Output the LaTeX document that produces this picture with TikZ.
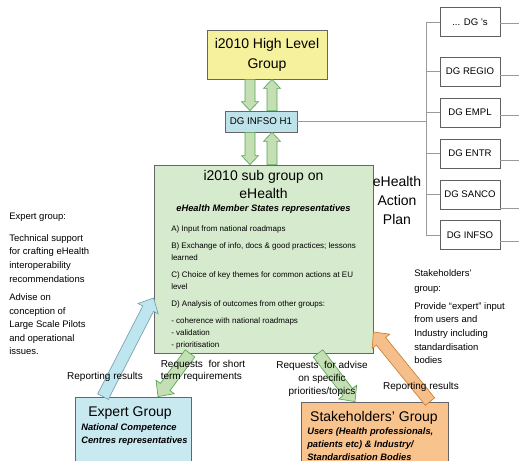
\documentclass[tikz,border=0pt]{standalone}
\usepackage{fontspec}
\setmainfont{Liberation Sans}
\usepackage{xcolor}
\usetikzlibrary{positioning, calc}

\definecolor{hlyellow}{HTML}{F5F19C}
\definecolor{subgreen}{HTML}{D6EBCD}
\definecolor{infoblue}{HTML}{BEE2E9}
\definecolor{expblue}{HTML}{C8E9EF}
\definecolor{stakeorange}{HTML}{F9C38E}
\definecolor{arrgreen}{HTML}{C3DFB3}
\definecolor{arrblue}{HTML}{BEE6EF}
\definecolor{arrorange}{HTML}{F6BE8A}
\definecolor{treegray}{HTML}{9A9A9A}

\tikzset{
  box/.style={draw=gray!80!black, line width=0.6pt, inner sep=0pt},
  hlbox/.style={box, fill=hlyellow, minimum width=90pt, minimum height=36.75pt,
    align=center, font=\fontsize{10.5}{15}\selectfont},
  h1box/.style={box, fill=infoblue, minimum width=54pt, minimum height=15.75pt,
    font=\fontsize{7.3}{9}\selectfont},
  subbox/.style={box, draw=black!60, fill=subgreen, minimum width=164.25pt, minimum height=141pt},
  dgbox/.style={draw=gray!75!black, fill=white, inner sep=0pt, minimum width=45pt,
    minimum height=21.75pt, font=\fontsize{7.2}{9}\selectfont},
  title/.style={inner sep=0pt, align=center, font=\fontsize{10.5}{13.5}\selectfont},
  boldit/.style={inner sep=0pt, font=\fontsize{7}{9.75}\selectfont\bfseries\itshape},
  items/.style={inner sep=0pt, anchor=north west, align=left, font=\fontsize{6}{9}\selectfont},
  lbl/.style={inner sep=0pt, font=\fontsize{7.5}{9.5}\selectfont},
  side/.style={inner sep=0pt, anchor=north west, align=left, font=\fontsize{7.1}{10.2}\selectfont},
  tree/.style={draw=treegray, line width=0.6pt},
  greenarr/.style={fill=arrgreen, draw=green!30!gray, line width=0.5pt},
  bluearr/.style={fill=arrblue, draw=cyan!30!gray, line width=0.5pt},
  orangearr/.style={fill=arrorange, draw=orange!60!gray, line width=0.5pt},
}

% block arrow: style, tail, tip, shaft half width, head half width, head length
\newcommand{\blockarrow}[6]{%
  \path (#2) coordinate (ba-t) ($(#3)!#6!(#2)$) coordinate (ba-n);
  \draw[#1] ($(ba-t)!#4!90:(ba-n)$) -- ($(ba-n)!#4!-90:(ba-t)$)
    -- ($(ba-n)!#5!-90:(ba-t)$) -- (#3) -- ($(ba-n)!#5!90:(ba-t)$)
    -- ($(ba-n)!#4!90:(ba-t)$) -- ($(ba-t)!#4!-90:(ba-n)$) -- cycle;
}

\begin{document}
\begin{tikzpicture}[x=0.75pt, y=-0.75pt]
  \useasboundingbox (0,0) rectangle (519,461);
  \clip (0,0) rectangle (519,461);

  % Groups
  \node[hlbox] (hl) at (267,54.5) {i2010 High Level\\Group};
  \node[h1box] (h1) at (261,121.5) {DG INFSO H1};
  \node[subbox] (sub) at (263.5,259) {};
  \node[box, fill=expblue, minimum width=87pt, minimum height=58.5pt] (expert) at (133,436) {};
  \node[box, fill=stakeorange, minimum width=110.25pt, minimum height=54.75pt] (stake) at (374.5,438.5) {};

  % DGs
  \node[dgbox] (dgs) at (470,22) {... DG 's};
  \node[dgbox] (regio) at (470,71.5) {DG REGIO};
  \node[dgbox] (empl) at (470,112.5) {DG EMPL};
  \node[dgbox] (entr) at (470,153.5) {DG ENTR};
  \node[dgbox] (sanco) at (470,194.5) {DG SANCO};
  \node[dgbox] (infso) at (470,235) {DG INFSO};

  % Bracket
  \coordinate (brtop) at (426,22);
  \coordinate (brbot) at (426,235);
  \draw[tree] (dgs.west) -- (brtop) -- (brbot) -- (infso.west);
  \foreach \n in {regio,empl,entr,sanco}
    \draw[tree] (\n.west) -- (\n.west -| brtop);
  \draw[tree] (h1.east) -- (h1.east -| brtop);
  \foreach \n/\dy in {dgs/1, regio/3.5, empl/2.5, entr/6.5, sanco/13.5, infso/6}
    \draw[tree] ($(\n.east)+(0,\dy)$) -- +(25,0);

  % Texts in the boxes
  \node[title] (subtitle) at (263.5,184) {i2010 sub group on\\eHealth};
  \node[boldit] (msr) at (263.5,209) {eHealth Member States representatives};
  \node[items] (tasks) at (171,225) {A) Input from national roadmaps\\[3.75pt]
    B) Exchange of info, docs \& good practices; lessons\\learned\\[3.75pt]
    C) Choice of key themes for common actions at EU\\level\\[3.75pt]
    D) Analysis of outcomes from other groups:\\[3.75pt]
    - coherence with national roadmaps\\- validation\\- prioritisation};
  \node[title] (exptitle) at (130,413) {Expert Group};
  \node[boldit, anchor=north west, align=left] (expwho) at (81,423)
    {National Competence\\Centres representatives};
  \node[title] (staketitle) at (374,418) {Stakeholders' Group};
  \node[boldit, anchor=north west, align=left] (stakewho) at (307,427)
    {Users (Health professionals,\\patients etc) \& Industry/\\Standardisation Bodies};

  % Arrows
  \blockarrow{greenarr}{$(hl.south)+(-17,0)$}{$(h1.north)+(-11,0)$}{3.75pt}{6.4pt}{6.75pt}
  \blockarrow{greenarr}{$(h1.north)+(11,0)$}{$(hl.south)+(5,0)$}{3.75pt}{6.4pt}{6.75pt}
  \blockarrow{greenarr}{$(h1.south)+(-11,0)$}{$(sub.north)+(-13.5,0)$}{3.75pt}{6.4pt}{6.75pt}
  \blockarrow{greenarr}{$(sub.north)+(8.5,0)$}{$(h1.south)+(11,0)$}{3.75pt}{6.4pt}{6.75pt}
  \blockarrow{bluearr}{$(expert.north)+(-30,0)$}{$(sub.west)+(0,39)$}{4.5pt}{8.5pt}{9pt}
  \blockarrow{greenarr}{$(sub.south)+(-73.5,0)$}{$(expert.north)+(25,0)$}{4.5pt}{8.5pt}{9pt}
  \blockarrow{greenarr}{$(sub.south)+(54.5,0)$}{$(stake.north)+(-19.5,0)$}{4.5pt}{8.5pt}{9pt}
  \blockarrow{orangearr}{$(stake.north)+(55.5,0)$}{$(sub.east)+(0,73)$}{4.5pt}{8.5pt}{9pt}

  % Labels
  \node[lbl] (repl) at (105,377) {Reporting results};
  \node[lbl, align=left] (reqshort) at (203,371) {Requests\ \ for short\\term requirements};
  \node[lbl, align=center] (reqadv) at (322,379) {Requests\ \ for advise\\on specific\\priorities/topics};
  \node[lbl] (repr) at (421,387) {Reporting results};
  \node[title, font=\fontsize{10.5}{14.25}\selectfont] (plan) at (397,200) {eHealth\\Action\\Plan};

  % Side notes
  \node[side] (expnote) at (9,213) {Expert group:\\[6pt]
    Technical support\\for crafting eHealth\\interoperability\\recommendations\\[3.5pt]
    Advise on\\conception of\\Large Scale Pilots\\and operational\\issues.};
  \node[side] (stakenote) at (414,269) {Stakeholders'\\[1.5pt]group:\\[3pt]
    Provide ``expert'' input\\from users and\\Industry including\\standardisation\\bodies};
\end{tikzpicture}
\end{document}
